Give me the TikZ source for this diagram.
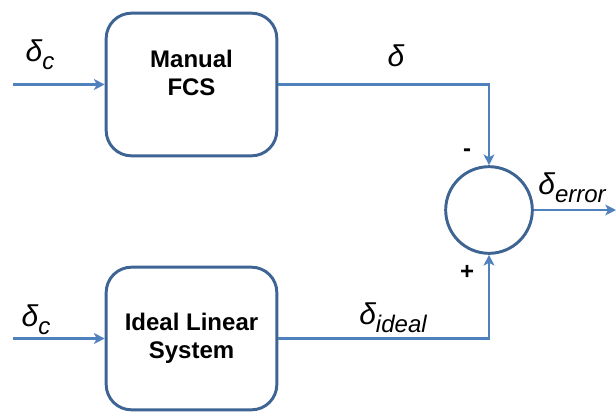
\documentclass[tikz,border=0pt]{standalone}
\usepackage{fontspec}
\setmainfont{Liberation Sans}
\usetikzlibrary{arrows.meta}
\definecolor{lineblue}{RGB}{79,129,189}
\definecolor{boxblue}{RGB}{62,100,148}
\newcommand{\dsym}[1]{{\fontsize{22.5pt}{24pt}\selectfont\itshape δ\raisebox{-0.28em}{\fontsize{18pt}{20pt}\selectfont #1}}}
\tikzset{
  blockbox/.style={draw=boxblue, line width=2.2pt, rounded corners=19pt, fill=white,
    minimum width=128pt, minimum height=107pt, align=center,
    font=\fontsize{18pt}{21pt}\selectfont\bfseries},
  sumnode/.style={circle, draw=boxblue, line width=2.2pt, minimum size=65pt, inner sep=0pt},
  sig/.style={draw=lineblue, line width=2.2pt, -{Stealth[length=8pt,width=8pt,inset=2pt]}},
  wire/.style={draw=lineblue, line width=2.2pt},
  lbl/.style={inner sep=0pt},
  sgn/.style={inner sep=0pt, font=\fontsize{18pt}{20pt}\selectfont\bfseries}
}
\begin{document}
\begin{tikzpicture}[x=0.75pt,y=-0.75pt]
\useasboundingbox (0,0) rectangle (616,412);
\node[blockbox] (fcs) at (191.5,84.5) {Manual\\FCS\\[-4pt]};
\node[blockbox] (ideal) at (191.5,338.5) {Ideal Linear\\System};
\node[sumnode] (sum) at (489,210) {};
\coordinate (in1) at (13,84.5);
\coordinate (in2) at (13,338.5);
\coordinate (out) at (616,210);
\coordinate (c1) at (489,84.5);
\coordinate (c2) at (489,338.5);
\draw[sig] (in1) -- (fcs.west);
\draw[sig] (in2) -- (ideal.west);
\draw[sig] (fcs.east) -- (c1) -- (sum.north);
\draw[sig] (ideal.east) -- (c2) -- (sum.south);
\draw[sig] (sum.east) -- (out);
\node[lbl] (lc1) at (40,55) {\dsym{c}};
\node[lbl] (lc2) at (36,320) {\dsym{c}};
\node[lbl] (ld) at (396,60) {\dsym{}};
\node[lbl] (lerr) at (572,188) {\dsym{error}};
\node[lbl] (lid) at (393,318) {\dsym{ideal}};
\node[sgn] (minus) at (467,153) {-};
\node[sgn] (plus) at (467,272) {+};
\end{tikzpicture}
\end{document}
